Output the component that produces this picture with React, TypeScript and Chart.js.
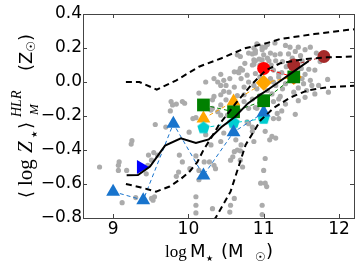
import React, { useEffect, useRef } from 'react';
import { Chart, registerables } from 'chart.js';
Chart.register(...registerables);

const xTicks = [9, 10, 11, 12];
const yTicks = [-0.8, -0.6, -0.4, -0.2, 0.0, 0.2, 0.4];

const galaxyMass = [8.82,9.07,9.08,9.07,9.18,9.25,9.24,9.12,9.30,9.56,9.54,9.47,9.46,9.44,9.51,9.55,9.53,9.77,9.84,9.79,9.95,9.76,9.70,10.01,9.88,9.87,9.84,10.02,10.10,10.14,10.10,10.10,9.59,9.51,9.92,10.10,10.23,10.30,10.47,10.43,10.65,10.61,10.69,10.56,10.69,10.72,10.21,10.28,10.34,10.36,10.14,10.78,10.85,10.85,10.87,11.02,11.11,11.16,11.02,11.00,11.02,11.04,10.98,10.98,10.10,10.56,10.55,10.32,11.13,11.20,11.08,10.65,10.87,10.98,11.00,11.09,10.98,10.87,10.85,10.69,10.61,10.66,10.78,10.23,10.39,10.47,10.43,10.89,11.13,11.20,11.09,11.13,10.87,10.91,10.74,10.61,10.54,10.74,10.43,10.32,10.14,10.50,10.74,10.80,10.91,10.32,10.39,10.43,10.52,11.18,11.22,11.13,9.92,10.34,10.47,10.72,10.89,10.06,10.30,10.43,10.80,10.43,10.34,10.67,10.69,10.89,10.98,10.94,10.87,10.91,11.02,11.29,11.35,11.46,11.62,11.22,11.33,11.49,11.51,11.60,11.55,11.62,11.73,11.86,11.68,11.53,11.46,11.29,11.24,11.42,10.89,11.20,11.57,11.07,11.16,10.89,10.85,11.24,11.20,11.16,11.11,11.29,11.51,11.68,11.85,11.64,11.46,10.61,10.63,10.59,10.70,10.96,10.95,11.05,11.10,11.15,11.25,11.30,11.38,11.42,11.55,11.70,11.75,11.50,11.35,11.25,11.40,11.55,10.95,11.05,10.80,10.70,10.95,11.05,11.15,10.75,10.80,10.55,10.50,10.65,10.85,11.00];
const galaxyZ = [-0.50,-0.52,-0.47,-0.49,-0.52,-0.345,-0.365,-0.71,-0.68,-0.25,-0.415,-0.43,-0.49,-0.54,-0.685,-0.675,-0.695,-0.115,-0.13,-0.135,-0.125,-0.17,-0.265,-0.295,-0.43,-0.53,-0.555,-0.51,-0.435,-0.575,-0.675,-0.725,-0.43,-0.46,-0.47,-0.21,-0.31,-0.37,-0.30,-0.35,-0.40,-0.41,-0.405,-0.46,-0.46,-0.50,-0.47,-0.47,-0.49,-0.51,-0.52,-0.235,-0.265,-0.29,-0.35,-0.29,-0.32,-0.33,-0.45,-0.52,-0.595,-0.615,-0.725,-0.78,-0.77,-0.725,-0.765,-0.745,-0.215,-0.215,-0.34,0.16,0.20,0.19,0.16,0.17,0.13,0.13,0.10,0.08,0.06,0.06,0.04,0.0,0.0,0.01,-0.02,0.05,0.07,0.05,0.02,0.0,-0.02,-0.04,-0.03,-0.03,-0.06,-0.075,-0.075,-0.105,-0.065,-0.105,-0.115,-0.155,-0.155,-0.155,-0.175,-0.135,-0.195,-0.185,-0.085,-0.115,-0.115,-0.085,-0.055,0.07,0.17,-0.215,-0.165,-0.195,-0.245,0.045,0.02,0.055,0.15,0.185,0.205,0.135,0.105,0.225,0.205,0.215,0.205,0.205,0.205,0.165,0.165,0.155,0.125,0.075,0.045,0.01,-0.02,-0.06,-0.07,-0.01,-0.11,-0.13,-0.17,-0.19,-0.15,-0.10,-0.05,0.125,0.125,0.125,0.165,0.055,0.03,-0.02,-0.07,-0.01,0.02,0.07,0.015,-0.02,-0.035,-0.685,-0.34,-0.44,-0.37,-0.595,0.10,0.14,0.10,0.16,0.12,0.09,0.14,0.18,0.19,0.17,0.12,0.08,0.04,-0.04,-0.06,-0.09,-0.08,-0.05,0.0,0.02,0.03,0.22,0.23,0.11,0.17,0.02,-0.02,-0.08,-0.10,-0.14];

const meanMass = [9.18, 9.33, 9.49, 9.69, 9.90, 10.10, 10.27, 10.44, 10.62, 10.79, 10.95, 11.05, 11.60];
const meanZ = [-0.549, -0.547, -0.497, -0.374, -0.331, -0.359, -0.338, -0.265, -0.204, -0.126, -0.076, -0.047, 0.124];

const p84Mass = [9.17, 9.35, 9.58, 9.84, 10.14, 10.44, 10.75, 11.05, 11.22, 11.67, 12.10, 12.2];
const p84Z = [0.0, 0.0, -0.045, 0.01, 0.09, 0.14, 0.198, 0.23, 0.253, 0.282, 0.306, 0.31];

const p50Mass = [9.17, 9.37, 9.57, 9.75, 9.90, 10.01, 10.12, 10.20, 10.30, 10.41, 10.63, 10.85, 11.03, 11.22, 11.55, 11.84, 12.2];
const p50Z = [-0.60, -0.62, -0.645, -0.615, -0.57, -0.53, -0.47, -0.40, -0.33, -0.25, -0.125, -0.01, 0.07, 0.11, 0.135, 0.145, 0.15];

const p16Mass = [10.16, 10.36, 10.56, 10.76, 10.96, 11.14, 11.36, 11.58, 11.84, 12.2];
const p16Z = [-0.90, -0.80, -0.645, -0.37, -0.225, -0.15, -0.09, -0.05, -0.031, -0.022];

const blueMass = [9.0, 9.4, 9.8, 10.2, 10.6, 11.0];
const blueZ = [-0.645, -0.695, -0.245, -0.55, -0.295, -0.18];

const cyanMass = [10.2, 10.6, 11.0];
const cyanZ = [-0.27, -0.24, -0.215];

const orangeMass = [10.2, 10.6, 11.0, 11.4];
const orangeZ = [-0.215, -0.115, -0.005, 0.03];
const orangeStyles = ['triangle', 'triangle', 'rectRot', 'rectRot'];

const greenMass = [10.2, 10.6, 11.0, 11.4];
const greenZ = [-0.135, -0.175, -0.11, 0.03];

const redMass = [11.0, 11.4];
const redZ = [0.08, 0.03];

const brownMass = [11.4, 11.8];
const brownZ = [0.10, 0.15];

const rightTriMass = [9.37];
const rightTriZ = [-0.50];

const pts = (xs: number[], ys: number[]) => xs.map((x, i) => ({ x, y: ys[i] }));

function makePentagon(color: string, r: number) {
  const c = document.createElement('canvas');
  const s = Math.ceil(r * 2 + 2);
  c.width = s; c.height = s;
  const g = c.getContext('2d')!;
  g.beginPath();
  for (let i = 0; i < 5; i++) {
    const a = -Math.PI / 2 + (i * 2 * Math.PI) / 5;
    const px = s / 2 + r * Math.cos(a);
    const py = s / 2 + r * Math.sin(a);
    if (i === 0) g.moveTo(px, py); else g.lineTo(px, py);
  }
  g.closePath();
  g.fillStyle = color;
  g.fill();
  return c;
}

type Part = { t: string; f: string; at?: number; dy?: number };

function drawRich(ctx: CanvasRenderingContext2D, parts: Part[], x0: number, y0: number) {
  let x = x0;
  for (const p of parts) {
    ctx.font = p.f;
    if (p.at !== undefined) x = x0 + p.at;
    ctx.fillText(p.t, x, y0 + (p.dy || 0));
    x += ctx.measureText(p.t).width;
  }
}

const xTitleParts: Part[] = [
  { t: 'log', f: '17px "Liberation Serif"', at: 0 },
  { t: 'M', f: '18px "DejaVu Sans"', at: 25 },
  { t: '★', f: '8px "DejaVu Sans"', at: 41, dy: 4 },
  { t: '(M', f: '18px "DejaVu Sans"', at: 56 },
  { t: '☉', f: '12px "DejaVu Sans"', at: 90, dy: 4 },
  { t: ')', f: '18px "DejaVu Sans"', at: 101 },
];

const yTitleParts: Part[] = [
  { t: '⟨', f: '18px "DejaVu Sans"', at: 1 },
  { t: 'log', f: '21px "Liberation Serif"', at: 13 },
  { t: 'Z', f: 'italic 21px "Liberation Serif"', at: 46 },
  { t: '★', f: '8px "DejaVu Sans"', at: 61, dy: 5 },
  { t: '⟩', f: '18px "DejaVu Sans"', at: 70 },
  { t: 'HLR', f: 'italic 14px "Liberation Serif"', at: 82, dy: -11 },
  { t: 'M', f: 'italic 13px "Liberation Serif"', at: 84, dy: 6 },
  { t: '(Z', f: '18px "DejaVu Sans"', at: 128 },
  { t: '☉', f: '12px "DejaVu Sans"', dy: 3 },
  { t: ')', f: '18px "DejaVu Sans"' },
];

const framePlugin = {
  id: 'frameAndTitles',
  afterDraw(chart: any) {
    const ctx: CanvasRenderingContext2D = chart.ctx;
    const { left, right, top, bottom } = chart.chartArea;
    const xs = chart.scales.x;
    const ys = chart.scales.y;
    ctx.save();
    ctx.strokeStyle = '#444';
    ctx.lineWidth = 1;
    ctx.beginPath();
    for (const v of xTicks) {
      const p = Math.round(xs.getPixelForValue(v)) + 0.5;
      ctx.moveTo(p, bottom); ctx.lineTo(p, bottom - 4);
      ctx.moveTo(p, top); ctx.lineTo(p, top + 4);
    }
    for (const v of yTicks) {
      const p = Math.round(ys.getPixelForValue(v)) + 0.5;
      ctx.moveTo(left, p); ctx.lineTo(left + 4, p);
      ctx.moveTo(right, p); ctx.lineTo(right - 4, p);
    }
    ctx.stroke();
    ctx.strokeRect(Math.round(left) + 0.5, Math.round(top) + 0.5, Math.round(right - left), Math.round(bottom - top));
    ctx.fillStyle = '#000';
    ctx.textBaseline = 'alphabetic';
    ctx.textAlign = 'left';
    drawRich(ctx, xTitleParts, 165, 257);
    ctx.translate(32, 199);
    ctx.rotate(-Math.PI / 2);
    drawRich(ctx, yTitleParts, 0, 0);
    ctx.restore();
  },
};

export default function App() {
  const ref = useRef<HTMLCanvasElement>(null);
  useEffect(() => {
    if (!ref.current) return;
    const pentagon = makePentagon('#00ced1', 6.5);
    const blue = '#1874cd';
    const chart = new Chart(ref.current, {
      type: 'scatter',
      data: {
        datasets: [
          { label: 'p84', data: pts(p84Mass, p84Z), showLine: true, borderColor: '#000', borderWidth: 2, borderDash: [6, 4], pointRadius: 0, order: 0 },
          { label: 'p50', data: pts(p50Mass, p50Z), showLine: true, borderColor: '#000', borderWidth: 2, borderDash: [6, 4], pointRadius: 0, order: 0 },
          { label: 'p16', data: pts(p16Mass, p16Z), showLine: true, borderColor: '#000', borderWidth: 2, borderDash: [6, 4], pointRadius: 0, order: 0 },
          { label: 'mean', data: pts(meanMass, meanZ), showLine: true, borderColor: '#000', borderWidth: 2, pointRadius: 0, order: 0 },
          { label: 'rightTri', data: pts(rightTriMass, rightTriZ), pointStyle: 'triangle', rotation: 90, pointRadius: 8, backgroundColor: '#0000ff', borderColor: '#0000ff', borderWidth: 0, order: 1 },
          { label: 'brown', data: pts(brownMass, brownZ), showLine: true, borderColor: '#a52a2a', borderWidth: 1, borderDash: [4, 3], pointStyle: 'circle', pointRadius: 6.5, pointBackgroundColor: '#a52a2a', pointBorderColor: '#a52a2a', pointBorderWidth: 0, order: 2 },
          { label: 'green', data: pts(greenMass, greenZ), showLine: true, borderColor: '#008000', borderWidth: 1, borderDash: [4, 3], pointStyle: 'rect', pointRadius: 9, pointBackgroundColor: '#008000', pointBorderColor: '#008000', pointBorderWidth: 0, order: 3 },
          { label: 'red', data: pts(redMass, redZ), showLine: true, borderColor: '#ff0000', borderWidth: 1, borderDash: [4, 3], pointStyle: 'circle', pointRadius: 6.5, pointBackgroundColor: '#ff0000', pointBorderColor: '#ff0000', pointBorderWidth: 0, order: 4 },
          { label: 'blue', data: pts(blueMass, blueZ), showLine: true, borderColor: blue, borderWidth: 1, borderDash: [4, 3], pointStyle: 'triangle', pointRadius: 8, pointBackgroundColor: blue, pointBorderColor: blue, pointBorderWidth: 0, order: 5 },
          { label: 'cyan', data: pts(cyanMass, cyanZ), showLine: true, borderColor: '#00ced1', borderWidth: 1, borderDash: [4, 3], pointStyle: pentagon as any, pointRadius: 7, order: 6 },
          { label: 'orange', data: pts(orangeMass, orangeZ), showLine: true, borderColor: '#ffa500', borderWidth: 1, borderDash: [4, 3], pointStyle: orangeStyles as any, pointRadius: 8, pointBackgroundColor: '#ffa500', pointBorderColor: '#ffa500', pointBorderWidth: 0, order: 7 },
          { label: 'galaxies', data: pts(galaxyMass, galaxyZ), pointStyle: 'circle', pointRadius: 2.6, backgroundColor: '#ababab', borderColor: '#ababab', borderWidth: 0, order: 8 },
        ] as any,
      },
      options: {
        responsive: false,
        animation: false,
        events: [],
        layout: { padding: { top: 14, right: 7, left: 0, bottom: 0 } },
        plugins: { legend: { display: false }, tooltip: { enabled: false } },
        scales: {
          x: {
            type: 'linear', min: 8.6, max: 12.2,
            grid: { display: false, drawTicks: false },
            border: { display: false },
            afterBuildTicks: (s: any) => { s.ticks = xTicks.map((v) => ({ value: v })); },
            afterFit: (s: any) => { s.height = 55; },
            ticks: { color: '#000', font: { family: 'DejaVu Sans', size: 17 }, padding: 1, callback: (v: any) => String(v) },
          },
          y: {
            type: 'linear', min: -0.8, max: 0.4,
            grid: { display: false, drawTicks: false },
            border: { display: false },
            afterBuildTicks: (s: any) => { s.ticks = yTicks.map((v) => ({ value: v })); },
            afterFit: (s: any) => { s.width = 83; },
            ticks: {
              color: '#000', font: { family: 'DejaVu Sans', size: 17 }, padding: 1,
              callback: (v: any) => (Math.abs(v) < 1e-9 ? '0.0' : Number(v).toFixed(1).replace('-', '\u2212')),
            },
          },
        },
      } as any,
      plugins: [framePlugin],
    });
    return () => chart.destroy();
  }, []);
  return (
    <div style={{ position: 'absolute', left: 0, top: 0, width: 363, height: 273, background: '#fff' }}>
      <canvas ref={ref} width={363} height={273} style={{ display: 'block', width: 363, height: 273 }} />
    </div>
  );
}
